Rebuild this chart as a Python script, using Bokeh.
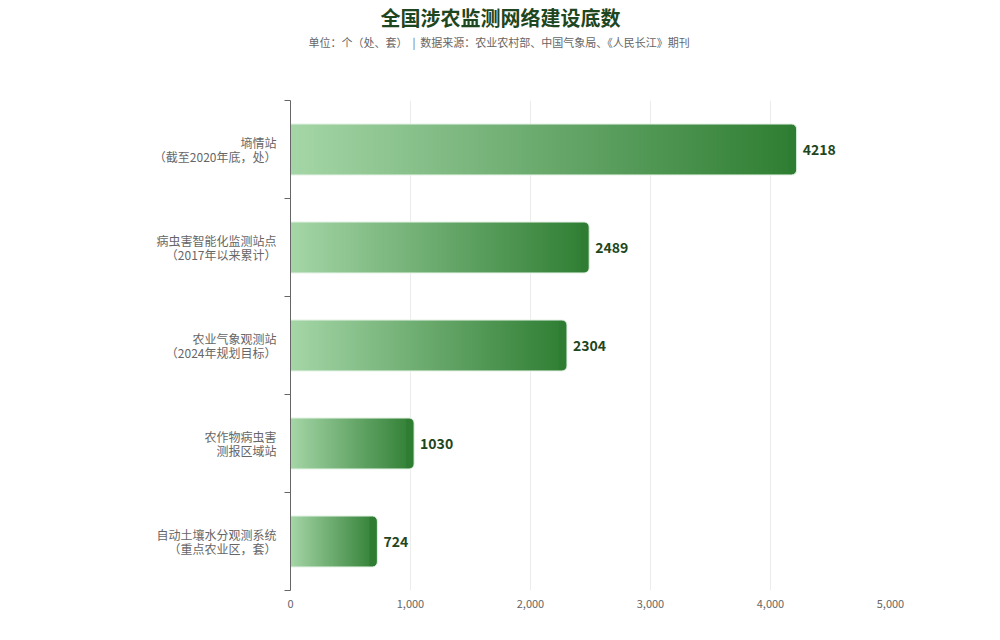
import numpy as np
from bokeh.plotting import figure
from bokeh.embed import file_html
from bokeh.resources import INLINE
from bokeh.models import ColumnDataSource, FixedTicker, NumeralTickFormatter, Title, Range1d
from bokeh.core.properties import value

categories = [
    "墒情站\n（截至2020年底，处）",
    "病虫害智能化监测站点\n（2017年以来累计）",
    "农业气象观测站\n（2024年规划目标）",
    "农作物病虫害\n测报区域站",
    "自动土壤水分观测系统\n（重点农业区，套）",
]
counts = [4218, 2489, 2304, 1030, 724]
x_ticks = [0, 1000, 2000, 3000, 4000, 5000]

FONT = "Noto Sans CJK SC"
LIGHT = np.array([165, 214, 167])
DARK = np.array([46, 125, 50])
TAIL = 50      # data units kept for the rounded end piece
OVERLAP = 15   # tail piece starts a bit inside the gradient image
BAR_H = 0.52
COLS = 600

n = len(categories)
centers = [n - i - 0.5 for i in range(n)]


def hexcol(rgb):
    return "#%02x%02x%02x" % tuple(int(round(c)) for c in rgb)


def gradient_image(frac_end):
    t = np.linspace(0, frac_end, COLS)[None, :, None]
    rgb = LIGHT + (DARK - LIGHT) * t
    img = np.empty((1, COLS, 4), dtype=np.uint8)
    img[..., :3] = np.round(rgb)
    img[..., 3] = 255
    return img.view(dtype=np.uint32).reshape((1, COLS))


bars = ColumnDataSource(dict(
    y=centers,
    y0=[c - BAR_H / 2 for c in centers],
    count=counts,
    body=[v - TAIL for v in counts],
    tail=[v - TAIL - OVERLAP for v in counts],
    img=[gradient_image((v - TAIL) / v) for v in counts],
    label=[str(v) for v in counts],
))

p = figure(width=984, height=624, output_backend="svg", toolbar_location=None,
           x_range=Range1d(0, 5000), y_range=Range1d(0, n),
           min_border_left=290, min_border_right=94, min_border_bottom=34,
           min_border_top=0)
p.outline_line_color = None
p.background_fill_color = "white"

spacer = Title(text=" ", text_font=FONT, text_font_size="11px", standoff=33)
sub = Title(text="单位：个（处、套）\u00a0 |\u00a0 数据来源：农业农村部、中国气象局、《人民长江》期刊",
            align="left", text_font=FONT, text_font_size="11px",
            text_color="#666666", text_font_style="normal", offset=18, standoff=0)
main = Title(text="全国涉农监测网络建设底数", align="left", text_font=FONT,
             text_font_size="20px", text_color="#1e4620", text_font_style="bold",
             offset=90, standoff=0)
p.add_layout(spacer, "above")
p.add_layout(sub, "above")
p.add_layout(main, "above")

p.image_rgba(image="img", x=0, y="y0", dw="body", dh=BAR_H, source=bars)
p.hbar(left="tail", right="count", y="y", height=BAR_H, source=bars,
       fill_color=hexcol(DARK), line_color=None, border_radius=(0, 5, 5, 0))
p.hbar(left=0, right="count", y="y", height=BAR_H, source=bars,
       fill_color=None, line_color="#e3f1e4", line_width=1, border_radius=(0, 5, 5, 0))

p.text(x="count", y="y", text="label", source=bars, x_offset=6,
       text_baseline="middle", text_align="left", text_font=value(FONT),
       text_font_size="14px", text_font_style="bold", text_color="#1e4620")

# axes
p.xaxis.ticker = FixedTicker(ticks=x_ticks)
p.xaxis.formatter = NumeralTickFormatter(format="0,0")
p.xaxis.axis_line_color = None
p.xaxis.major_tick_line_color = None
p.xaxis.major_tick_out = 0
p.xaxis.minor_tick_line_color = None
p.xaxis.major_label_text_font = FONT
p.xaxis.major_label_text_font_size = "11px"
p.xaxis.major_label_text_color = "#666666"
p.xaxis.major_label_standoff = 9

p.yaxis.ticker = FixedTicker(ticks=centers, minor_ticks=list(range(n + 1)))
p.yaxis.major_label_overrides = {c: lab for c, lab in zip(centers, categories)}
p.yaxis.axis_line_color = "#666666"
p.yaxis.major_tick_line_color = None
p.yaxis.major_tick_out = 0
p.yaxis.major_tick_in = 0
p.yaxis.minor_tick_line_color = "#666666"
p.yaxis.minor_tick_out = 6
p.yaxis.minor_tick_in = 0
p.yaxis.major_label_text_font = FONT
p.yaxis.major_label_text_font_size = "12px"
p.yaxis.major_label_text_color = "#666666"
p.yaxis.major_label_text_align = "right"
p.yaxis.major_label_text_line_height = 0.8
p.yaxis.major_label_standoff = 8

p.xgrid.grid_line_color = "#ececec"
p.ygrid.grid_line_color = None

open("out.html", "w").write(file_html(p, INLINE))
